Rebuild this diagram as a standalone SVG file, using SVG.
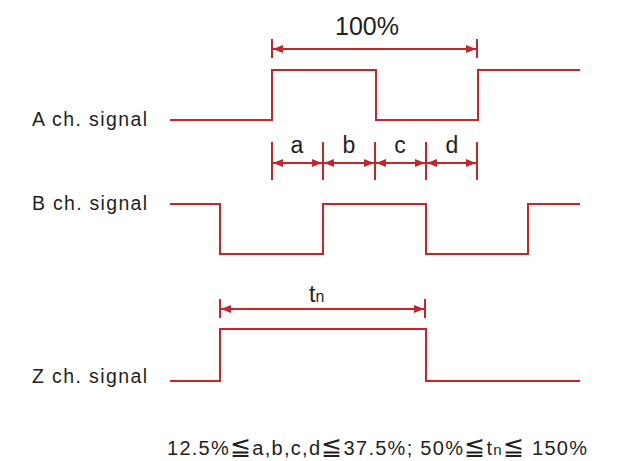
<svg xmlns="http://www.w3.org/2000/svg" width="620" height="461" viewBox="0 0 620 461">
<style>
.sig{fill:none;stroke:#c1272d;stroke-width:2;stroke-linejoin:miter}
.dim{fill:none;stroke:#c1272d;stroke-width:2}
.tick{stroke:#c1272d;stroke-width:2}
.t{font-family:"Liberation Sans",Arial,sans-serif;fill:#231f20}
.le{font-size:25px}
</style>
<defs>
<marker id="ah" viewBox="0 0 10 10" refX="10" refY="5" markerWidth="5" markerHeight="5" orient="auto-start-reverse" markerUnits="strokeWidth">
<path d="M0,1 L10,5 L0,9 Z" fill="#c1272d"/>
</marker>
</defs>
<rect width="620" height="461" fill="#fff"/>
<g id="labels">
<text class="t" x="32" y="126" font-size="19.5" textLength="115" lengthAdjust="spacing">A ch. signal</text>
<text class="t" x="32" y="210" font-size="19.5" textLength="115" lengthAdjust="spacing">B ch. signal</text>
<text class="t" x="32" y="383" font-size="19.5" textLength="115" lengthAdjust="spacing">Z ch. signal</text>
</g>
<g id="signal-a"><path class="sig" d="M170,120 H272 V70 H376 V120 H478 V70 H580"/></g>
<g id="signal-b"><path class="sig" d="M170,204 H220 V254 H323 V204 H426 V254 H528 V204 H580"/></g>
<g id="signal-z"><path class="sig" d="M170,381 H220 V329 H426 V381 H580"/></g>
<g id="connectors">
<line class="tick" x1="272" y1="39" x2="272" y2="58"/>
<line class="tick" x1="477" y1="39" x2="477" y2="58"/>
<line class="dim" x1="273" y1="49" x2="476" y2="49" marker-start="url(#ah)" marker-end="url(#ah)"/>
<line class="tick" x1="272" y1="142" x2="272" y2="180"/>
<line class="tick" x1="323" y1="142" x2="323" y2="180"/>
<line class="tick" x1="375" y1="142" x2="375" y2="180"/>
<line class="tick" x1="426" y1="142" x2="426" y2="180"/>
<line class="tick" x1="477" y1="142" x2="477" y2="180"/>
<line class="dim" x1="273" y1="163" x2="322" y2="163" marker-start="url(#ah)" marker-end="url(#ah)"/>
<line class="dim" x1="324" y1="163" x2="374" y2="163" marker-start="url(#ah)" marker-end="url(#ah)"/>
<line class="dim" x1="376" y1="163" x2="425" y2="163" marker-start="url(#ah)" marker-end="url(#ah)"/>
<line class="dim" x1="427" y1="163" x2="476" y2="163" marker-start="url(#ah)" marker-end="url(#ah)"/>
<line class="tick" x1="220" y1="299" x2="220" y2="318"/>
<line class="tick" x1="425" y1="299" x2="425" y2="318"/>
<line class="dim" x1="221" y1="309" x2="424" y2="309" marker-start="url(#ah)" marker-end="url(#ah)"/>
</g>
<g id="dim-labels">
<text class="t" x="367" y="35" font-size="25" text-anchor="middle">100%</text>
<text class="t" x="297" y="153" font-size="23" text-anchor="middle">a</text>
<text class="t" x="349" y="153" font-size="23" text-anchor="middle">b</text>
<text class="t" x="400" y="153" font-size="23" text-anchor="middle">c</text>
<text class="t" x="452" y="153" font-size="23" text-anchor="middle">d</text>
<text class="t" x="309" y="302" font-size="23">t<tspan font-size="16">n</tspan></text>
</g>
<g id="formula">
<text class="t" x="167" y="455" font-size="20" textLength="420" lengthAdjust="spacing">12.5%<tspan class="le">≦</tspan>a,b,c,d<tspan class="le">≦</tspan>37.5%; 50%<tspan class="le">≦</tspan>t<tspan font-size="15">n</tspan><tspan class="le">≦</tspan> 150%</text>
</g>
</svg>
